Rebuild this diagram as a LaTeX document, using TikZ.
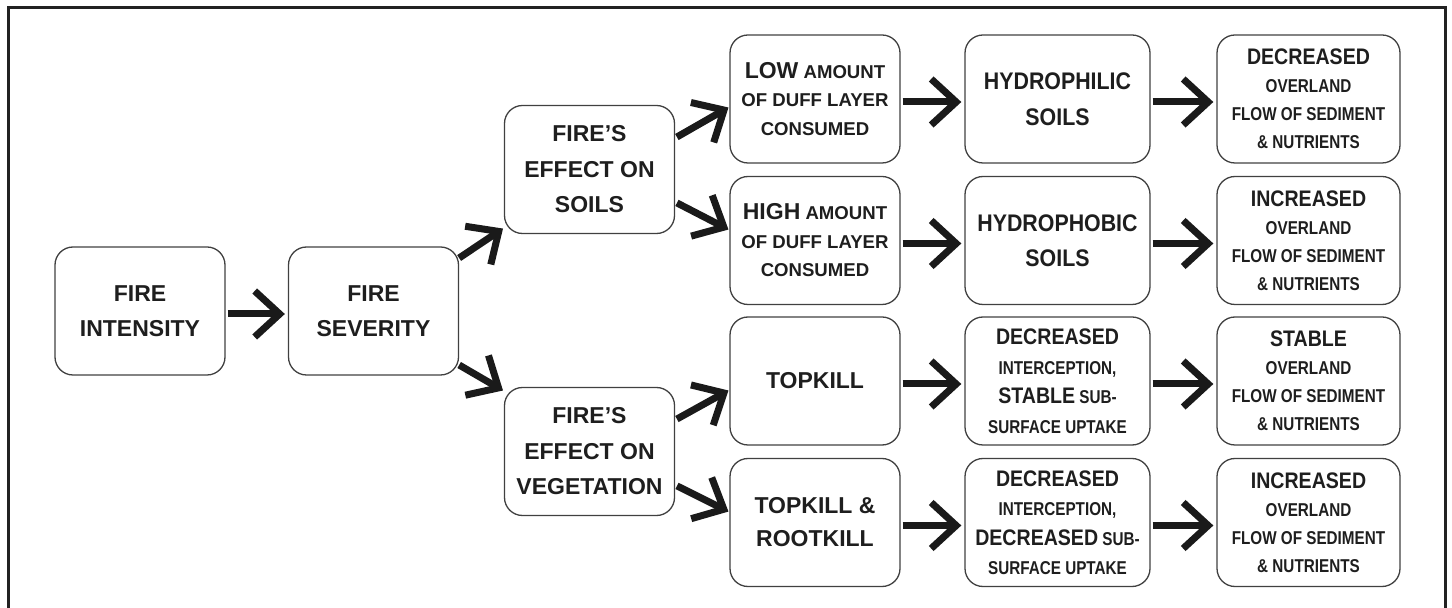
\documentclass[tikz,border=0pt]{standalone}
\usepackage{fontspec}
\setmainfont{Liberation Sans}
\newfontfamily\nbig{Liberation Sans}[FakeStretch=0.87]
\newfontfamily\nsml{Liberation Sans}[FakeStretch=0.82]
\newfontfamily\nhyd{Liberation Sans}[FakeStretch=0.89]
\usetikzlibrary{arrows.meta}
\definecolor{txtc}{HTML}{1E1E1E}
\definecolor{boxc}{HTML}{404040}
\definecolor{arrc}{HTML}{1A1A1A}
\definecolor{framec}{HTML}{222222}
\newcommand\BW[1]{{\nbig\bfseries\fontsize{22.5}{29}\selectfont #1}}
\newcommand\LW[1]{{\bfseries\fontsize{23}{28.5}\selectfont #1}}
\tikzset{
  box/.style={draw=boxc, line width=1.3pt, rounded corners=18pt,
    minimum width=170pt, minimum height=128pt, inner sep=0pt,
    align=center, text=txtc},
  wbox/.style={box, minimum width=185pt},
  mainf/.style={font=\bfseries\fontsize{23}{35.5}\selectfont},
  colfour/.style={font=\bfseries\fontsize{18.6}{28.5}\selectfont},
  colfive/.style={font=\nsml\bfseries\fontsize{18.6}{29.5}\selectfont},
  colsix/.style={font=\nsml\bfseries\fontsize{18.6}{28}\selectfont},
  hydf/.style={font=\nhyd\bfseries\fontsize{24}{35.5}\selectfont},
  arr/.style={draw=arrc, line width=7pt, line join=miter,
    -{Straight Barb[length=25pt,width=46pt]}, shorten <=2pt, shorten >=3pt}
}
\begin{document}
\begin{tikzpicture}[x=1pt,y=1pt]
\useasboundingbox (0,0) rectangle (1452,608);
% frame
\draw[framec, line width=3pt] (8,0) -- (8,600) -- (1445,600) -- (1445,0);
% column 1-3
\node[box, mainf] (int) at (140,297) {FIRE\\INTENSITY};
\node[box, mainf] (sev) at (373.5,297) {FIRE\\SEVERITY};
\node[box, mainf] (soils) at (589.5,438.5) {FIRE’S\\EFFECT ON\\SOILS};
\node[box, mainf] (veg) at (589.5,156.5) {FIRE’S\\EFFECT ON\\VEGETATION};
% column 4
\node[box, colfour] (low) at (815,509) {\LW{LOW} AMOUNT\\OF DUFF LAYER\\CONSUMED};
\node[box, colfour] (high) at (815,367.5) {\LW{HIGH} AMOUNT\\OF DUFF LAYER\\CONSUMED};
\node[box, mainf] (top) at (815,227) {TOPKILL};
\node[box, font=\bfseries\fontsize{23}{33}\selectfont] (root) at (815,85.5) {TOPKILL \&\\ROOTKILL};
% column 5
\node[wbox, hydf] (phil) at (1057.5,509) {HYDROPHILIC\\SOILS};
\node[wbox, hydf] (phob) at (1057.5,367.5) {HYDROPHOBIC\\SOILS};
\node[wbox, colfive] (icpa) at (1057.5,227) {\BW{DECREASED}\\INTERCEPTION,\\\BW{STABLE} SUB-\\SURFACE UPTAKE};
\node[wbox, colfive] (icpb) at (1057.5,85.5) {\BW{DECREASED}\\INTERCEPTION,\\\BW{DECREASED} SUB-\\SURFACE UPTAKE};
% column 6
\node[wbox, minimum width=183pt, colsix] (outa) at (1308.5,509) {\BW{DECREASED}\\OVERLAND\\FLOW OF SEDIMENT\\\& NUTRIENTS};
\node[wbox, minimum width=183pt, colsix] (outb) at (1308.5,367.5) {\BW{INCREASED}\\OVERLAND\\FLOW OF SEDIMENT\\\& NUTRIENTS};
\node[wbox, minimum width=183pt, colsix] (outc) at (1308.5,227) {\BW{STABLE}\\OVERLAND\\FLOW OF SEDIMENT\\\& NUTRIENTS};
\node[wbox, minimum width=183pt, colsix] (outd) at (1308.5,85.5) {\BW{INCREASED}\\OVERLAND\\FLOW OF SEDIMENT\\\& NUTRIENTS};
% arrows
\draw[arr] ([yshift=-3pt]int.east) -- ([yshift=-3pt]sev.west);
\draw[arr, shorten <=0pt, shorten >=1pt] ([yshift=53pt]sev.east) -- ([yshift=-58.5pt]soils.west);
\draw[arr, shorten <=0pt, shorten >=1pt] ([yshift=-54pt]sev.east) -- ([yshift=60.5pt]veg.west);
\draw[arr, shorten >=1pt] ([yshift=31.5pt]soils.east) -- ([yshift=-8pt]low.west);
\draw[arr, shorten >=1pt] ([yshift=-32.5pt]soils.east) -- ([yshift=10.5pt]high.west);
\draw[arr, shorten >=1pt] ([yshift=31.5pt]veg.east) -- ([yshift=-9pt]top.west);
\draw[arr, shorten >=1pt] ([yshift=-33.5pt]veg.east) -- ([yshift=10.5pt]root.west);
\draw[arr] ([yshift=-3pt]low.east) -- ([yshift=-3pt]phil.west);
\draw[arr] ([yshift=-3pt]high.east) -- ([yshift=-3pt]phob.west);
\draw[arr] ([yshift=-3pt]top.east) -- ([yshift=-3pt]icpa.west);
\draw[arr] ([yshift=-3pt]root.east) -- ([yshift=-3pt]icpb.west);
\draw[arr] ([yshift=-3pt]phil.east) -- ([yshift=-3pt]outa.west);
\draw[arr] ([yshift=-3pt]phob.east) -- ([yshift=-3pt]outb.west);
\draw[arr] ([yshift=-3pt]icpa.east) -- ([yshift=-3pt]outc.west);
\draw[arr] ([yshift=-3pt]icpb.east) -- ([yshift=-3pt]outd.west);
\end{tikzpicture}
\end{document}
